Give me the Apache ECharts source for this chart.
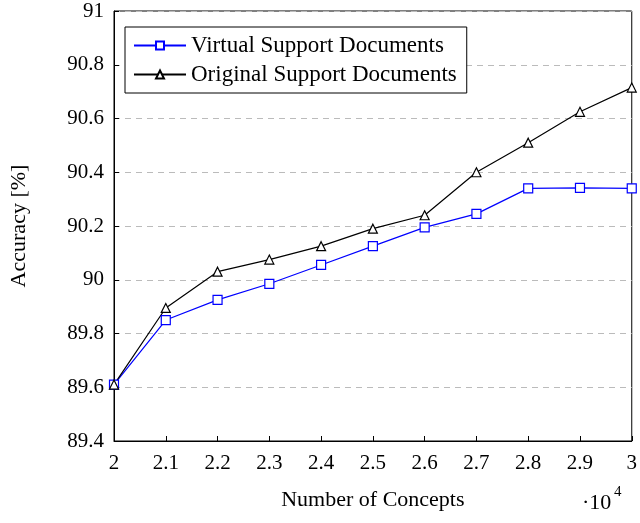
<!DOCTYPE html>
<html><head><meta charset="utf-8">
<script src="https://cdn.jsdelivr.net/npm/echarts@6/dist/echarts.min.js"></script>
<style>html,body{margin:0;background:#fff}#c{width:640px;height:523px}</style>
</head><body><div id="c"></div>
<script>
const concepts = [2, 2.1, 2.2, 2.3, 2.4, 2.5, 2.6, 2.7, 2.8, 2.9, 3];
const virtualDocs = [89.61, 89.85, 89.925, 89.985, 90.055, 90.125, 90.195, 90.245, 90.34, 90.342, 90.34];
const originalDocs = [89.61, 89.895, 90.03, 90.075, 90.125, 90.19, 90.24, 90.40, 90.51, 90.625, 90.715];
const font = 'Liberation Serif';

const chart = echarts.init(document.getElementById('c'));
chart.setOption({
  animation: false,
  textStyle: { fontFamily: font },
  grid: { left: 108, right: 4, top: 11, bottom: 82, show: true, borderColor: '#000', borderWidth: 1 },
  legend: {
    orient: 'vertical', left: 125, top: 27, padding: [7, 10, 7, 8], itemGap: 6,
    borderColor: '#000', borderWidth: 1, backgroundColor: '#fff',
    itemWidth: 52, itemHeight: 10,
    textStyle: { fontFamily: font, fontSize: 23, color: '#000' }
  },
  xAxis: {
    type: 'value', min: 2, max: 3, interval: 0.1,
    name: 'Number of Concepts', nameLocation: 'middle', nameGap: 48,
    nameTextStyle: { fontSize: 22, color: '#000', fontFamily: font },
    axisLine: { lineStyle: { color: '#000' } },
    axisTick: { inside: true, length: 5, lineStyle: { color: '#000' } },
    axisLabel: { fontSize: 21, color: '#000', margin: 12, formatter: v => String(+v.toFixed(1)) },
    splitLine: { show: false }
  },
  yAxis: {
    type: 'value', min: 89.4, max: 91, interval: 0.2,
    name: 'Accuracy [%]', nameLocation: 'middle', nameGap: 84,
    nameTextStyle: { fontSize: 22, color: '#000', fontFamily: font },
    axisLine: { lineStyle: { color: '#000' } },
    axisTick: { inside: true, length: 5, lineStyle: { color: '#000' } },
    axisLabel: { fontSize: 21, color: '#000', margin: 10, formatter: v => String(+v.toFixed(1)) },
    splitLine: { lineStyle: { color: '#bbb', type: [6, 5] } }
  },
  graphic: [{
    type: 'text', left: 582, top: 492,
    style: { text: '·10', font: '22px ' + font, fill: '#000' }
  }, {
    type: 'text', left: 614, top: 485,
    style: { text: '4', font: '15px ' + font, fill: '#000' }
  }],
  series: [{
    name: 'Virtual Support Documents', type: 'line',
    data: concepts.map((x, i) => [x, virtualDocs[i]]),
    symbol: 'rect', symbolSize: 9,
    lineStyle: { width: 1.2, color: '#0000ff' }, itemStyle: { color: '#fff', borderColor: '#0000ff', borderWidth: 1.2 }
  }, {
    name: 'Original Support Documents', type: 'line',
    data: concepts.map((x, i) => [x, originalDocs[i]]),
    symbol: 'triangle', symbolSize: 9,
    lineStyle: { width: 1.2, color: '#000' }, itemStyle: { color: '#fff', borderColor: '#000', borderWidth: 1.2 }
  }]
});
</script></body></html>
